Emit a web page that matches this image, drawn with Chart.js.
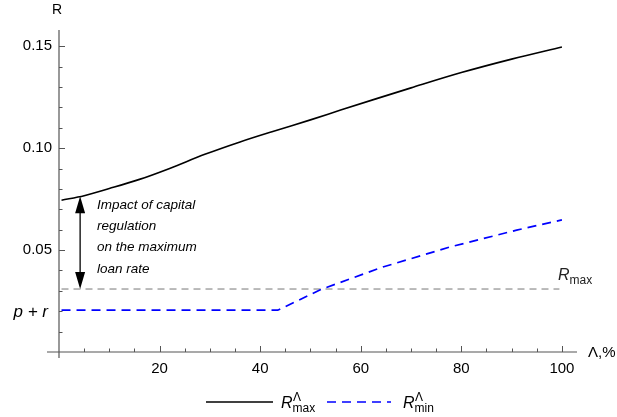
<!DOCTYPE html>
<html>
<head>
<meta charset="utf-8">
<script src="https://cdn.jsdelivr.net/npm/chart.js@4.4.1/dist/chart.umd.min.js"></script>
<style>
  html, body { margin: 0; padding: 0; background: #fff; }
  #wrap { width: 617px; height: 417px; }
</style>
</head>
<body>
<div id="wrap"><canvas id="chart" width="617" height="417"></canvas></div>
<script>
// Values (Λ in %, R as a rate)
const lambdaMax = [0.5, 5, 10, 16, 22, 29, 36, 43, 50, 56, 63, 70, 80, 90, 100];
const rMaxValues = [0.0745, 0.0767, 0.0802, 0.0847, 0.0901, 0.0970, 0.1031, 0.1086, 0.1139, 0.1187, 0.1242, 0.1296, 0.1371, 0.1437, 0.1497];

const lambdaMin = [0.5, 20, 43.5, 52.3, 64.4, 77.7, 91, 100];
const rMinValues = [0.0205, 0.0205, 0.0205, 0.0309, 0.0417, 0.0515, 0.0598, 0.0648];

// flat R_max level (grey dashed)
const rMaxLevelX = [0.5, 99.5];
const rMaxLevel = 0.0309;
const pPlusR = 0.0205;

// double arrow: at this Λ, from the curve down to R_max
const arrowLambda = 4.2;
const arrowTop = 0.0764;

const xTicks = [20, 40, 60, 80, 100];
const yTicks = [0.05, 0.10, 0.15];
const noteLines = ['Impact of capital', 'regulation', 'on the maximum', 'loan rate'];

const FONT = '"Liberation Sans", Arial, sans-serif';

function toPoints(xs, ys) {
    return xs.map((x, i) => ({ x: x, y: ys[i] }));
}

// R with optional superscript / subscript, returns end x
function drawR(ctx, x, y, size, sup, sub) {
    ctx.textBaseline = 'alphabetic';
    ctx.textAlign = 'left';
    ctx.font = 'italic ' + size + 'px ' + FONT;
    ctx.fillText('R', x, y);
    const w = ctx.measureText('R').width;
    const small = Math.round(size * 0.78);
    ctx.font = small + 'px ' + FONT;
    let end = x + w;
    if (sup) {
        ctx.fillText(sup, x + w + 0.5, y - size * 0.42);
        end = Math.max(end, x + w + 0.5 + ctx.measureText(sup).width);
    }
    if (sub) {
        ctx.fillText(sub, x + w, y + size * 0.28);
        end = Math.max(end, x + w + ctx.measureText(sub).width);
    }
    return end;
}

const axesPlugin = {
    id: 'axesPlugin',
    beforeDatasetsDraw(chart) {
        const ctx = chart.ctx;
        const xs = chart.scales.x, ys = chart.scales.y;
        const x0 = xs.getPixelForValue(0), y0 = ys.getPixelForValue(0);
        ctx.save();
        ctx.strokeStyle = '#555';
        ctx.lineWidth = 1.2;
        ctx.beginPath();
        ctx.moveTo(x0 - 12, y0);
        ctx.lineTo(chart.chartArea.right, y0);
        ctx.moveTo(x0, y0 + 6);
        ctx.lineTo(x0, chart.chartArea.top);
        ctx.stroke();

        ctx.lineWidth = 1;
        ctx.beginPath();
        // x ticks, pointing up
        for (let v = 5; v <= 100; v += 5) {
            const px = Math.round(xs.getPixelForValue(v)) + 0.5;
            const len = v % 20 === 0 ? 6 : 3.5;
            ctx.moveTo(px, y0);
            ctx.lineTo(px, y0 - len);
        }
        // y ticks, pointing right
        for (let k = 1; k <= 15; k++) {
            const py = Math.round(ys.getPixelForValue(k / 100)) + 0.5;
            const len = k % 5 === 0 ? 6 : 3.5;
            ctx.moveTo(x0, py);
            ctx.lineTo(x0 + len, py);
        }
        ctx.stroke();
        ctx.restore();
    },
    afterDraw(chart) {
        const ctx = chart.ctx;
        const xs = chart.scales.x, ys = chart.scales.y;
        const x0 = xs.getPixelForValue(0);
        ctx.save();
        ctx.fillStyle = '#000';

        // axis titles
        ctx.font = '14px ' + FONT;
        ctx.textAlign = 'center';
        ctx.textBaseline = 'middle';
        ctx.fillText('R', x0 - 2, 10);
        ctx.font = '15px ' + FONT;
        ctx.textAlign = 'left';
        ctx.fillText('\u039B,%', 588, ys.getPixelForValue(0) + 1);

        // p + r on the y axis
        ctx.font = 'italic 17px ' + FONT;
        ctx.textAlign = 'right';
        ctx.fillText('p + r', 48, ys.getPixelForValue(pPlusR) + 2);

        // double arrow
        const ax = xs.getPixelForValue(arrowLambda);
        const ayTop = ys.getPixelForValue(arrowTop);
        const ayBot = ys.getPixelForValue(rMaxLevel);
        const head = 17, half = 5;
        ctx.strokeStyle = '#000';
        ctx.lineWidth = 1.3;
        ctx.beginPath();
        ctx.moveTo(ax, ayTop + head - 2);
        ctx.lineTo(ax, ayBot - head + 2);
        ctx.stroke();
        ctx.beginPath();
        ctx.moveTo(ax, ayTop);
        ctx.lineTo(ax - half, ayTop + head);
        ctx.lineTo(ax + half, ayTop + head);
        ctx.closePath();
        ctx.moveTo(ax, ayBot);
        ctx.lineTo(ax - half, ayBot - head);
        ctx.lineTo(ax + half, ayBot - head);
        ctx.closePath();
        ctx.fill();

        // note text
        ctx.font = 'italic 13.5px ' + FONT;
        ctx.textAlign = 'left';
        ctx.textBaseline = 'middle';
        noteLines.forEach((t, i) => ctx.fillText(t, 97, 205 + i * 21.3));

        // R_max label
        ctx.fillStyle = '#222';
        drawR(ctx, 558, 280, 16, null, 'max');

        // legend
        const ds = chart.data.datasets;
        const ly = 402;
        ctx.lineWidth = ds[0].borderWidth;
        ctx.strokeStyle = ds[0].borderColor;
        ctx.setLineDash([]);
        ctx.beginPath();
        ctx.moveTo(206, ly);
        ctx.lineTo(273, ly);
        ctx.stroke();
        ctx.strokeStyle = ds[1].borderColor;
        ctx.lineWidth = ds[1].borderWidth;
        ctx.setLineDash(ds[1].borderDash);
        ctx.beginPath();
        ctx.moveTo(327, ly);
        ctx.lineTo(391, ly);
        ctx.stroke();
        ctx.setLineDash([]);
        ctx.fillStyle = '#000';
        drawR(ctx, 281, 408, 16, '\u039B', 'max');
        drawR(ctx, 403, 408, 16, '\u039B', 'min');
        ctx.restore();
    }
};

const ctx = document.getElementById('chart').getContext('2d');
new Chart(ctx, {
    type: 'line',
    data: {
        datasets: [{
            label: 'R max',
            data: toPoints(lambdaMax, rMaxValues),
            borderColor: '#000',
            borderWidth: 1.6,
            pointRadius: 0,
            cubicInterpolationMode: 'monotone',
            fill: false
        }, {
            label: 'R min',
            data: toPoints(lambdaMin, rMinValues),
            borderColor: '#0000ff',
            borderWidth: 1.7,
            borderDash: [9, 6],
            pointRadius: 0,
            tension: 0,
            fill: false
        }, {
            label: 'R max level',
            data: toPoints(rMaxLevelX, [rMaxLevel, rMaxLevel]),
            borderColor: '#777',
            borderWidth: 1,
            borderDash: [7, 5],
            pointRadius: 0,
            fill: false
        }]
    },
    options: {
        responsive: false,
        animation: false,
        layout: { padding: { top: 30, right: 40, bottom: 0, left: 0 } },
        plugins: {
            legend: { display: false },
            tooltip: { enabled: false }
        },
        scales: {
            x: {
                type: 'linear',
                min: 0,
                max: 103,
                grid: { display: false, drawTicks: false },
                border: { display: false },
                ticks: { color: '#000', font: { family: FONT, size: 15 }, padding: 8 },
                afterBuildTicks: s => { s.ticks = xTicks.map(v => ({ value: v })); },
                afterFit: s => { s.height = 65; }
            },
            y: {
                type: 'linear',
                min: 0,
                max: 0.158,
                grid: { display: false, drawTicks: false },
                border: { display: false },
                ticks: {
                    color: '#000',
                    font: { family: FONT, size: 15 },
                    padding: 7,
                    callback: v => v.toFixed(2)
                },
                afterBuildTicks: s => { s.ticks = yTicks.map(v => ({ value: v })); },
                afterFit: s => { s.width = 59; }
            }
        }
    },
    plugins: [axesPlugin]
});
</script>
</body>
</html>
